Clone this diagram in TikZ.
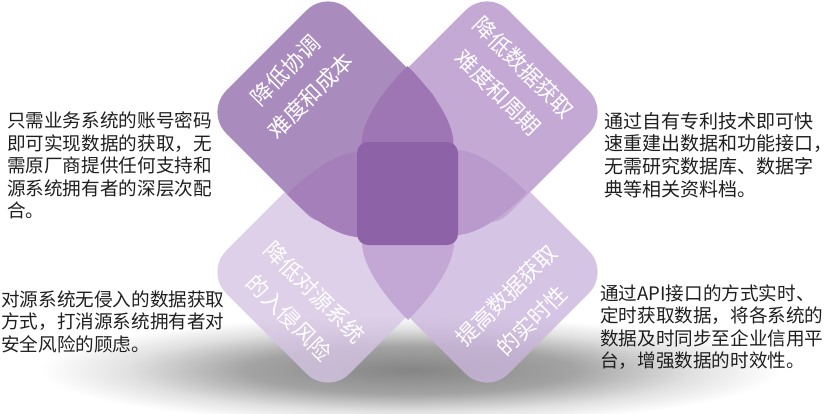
\documentclass[tikz,border=0pt]{standalone}
\usepackage{fontspec}
\setmainfont{Noto Sans CJK SC}
\usetikzlibrary{positioning}
\definecolor{leafA}{HTML}{956EAE}
\definecolor{leafB}{HTML}{B694CB}
\definecolor{leafC}{HTML}{D4C4E2}
\definecolor{leafD}{HTML}{CBB5DC}
\definecolor{petalT}{HTML}{9D76B3}
\definecolor{petalL}{HTML}{A47FB9}
\definecolor{petalR}{HTML}{BA99CD}
\definecolor{petalB}{HTML}{C3A7D5}
\definecolor{coreC}{HTML}{8D62A6}
\pgfdeclareradialshading{dropshade}{\pgfpoint{0bp}{0bp}}{color(0bp)=(black!48); color(11bp)=(black!36); color(19bp)=(black!12); color(25bp)=(white); color(50bp)=(white)}

\begin{document}
\begin{tikzpicture}[x=1pt,y=-1pt,
leaf/.style={rectangle, rounded corners=30pt, minimum size=174pt, inner sep=0pt, rotate=45},
leaftext/.style={text=white, align=center, inner sep=0pt, font=\fontsize{22pt}{36pt}\selectfont},
note/.style={anchor=north west, inner sep=0pt, align=left, text=black!88, font=\fontsize{18.6pt}{22.5pt}\selectfont}]
\useasboundingbox (0,0) rectangle (824,413);
\shade[shading=dropshade] (410,370) ellipse [x radius=370pt, y radius=54pt];
\begin{scope}[opacity=0.8, transparency group]
\node[leaf, fill=leafC] (D3) at (328,272) {};
\node[leaf, fill=leafD] (D4) at (487,272) {};
\node[leaf, fill=leafB] (D2) at (487,112) {};
\node[leaf, fill=leafA] (D1) at (328,112) {};
\end{scope}
\fill[petalT] (407.5,66) .. controls (386.5,87) and (361.5,119) .. (361.5,144) -- (361.5,165) -- (453.5,165) -- (453.5,144) .. controls (453.5,119) and (428.5,87) .. (407.5,66) -- cycle;
\fill[petalB] (408,320) .. controls (387,299) and (362,267) .. (362,242) -- (362,221) -- (454,221) -- (454,242) .. controls (454,267) and (429,299) .. (408,320) -- cycle;
\fill[petalL] (287,194.5) .. controls (307,174.5) and (336,152) .. (359,152) -- (380,152) -- (380,237) -- (359,237) .. controls (336,237) and (307,214.5) .. (287,194.5) -- cycle;
\fill[petalR] (527,192.5) .. controls (507,172.5) and (479,150) .. (456,150) -- (435,150) -- (435,235) -- (456,235) .. controls (479,235) and (507,212.5) .. (527,192.5) -- cycle;
\node[fill=coreC, minimum width=101pt, minimum height=103pt, rounded corners=11pt, inner sep=0pt] (C0) at (407.5,193.5) {};
\node[leaftext, rotate=45] (T1) at (298,83) {降低协调\\难度和成本};
\node[leaftext, rotate=-45] (T2) at (511,80) {降低数据获取\\难度和周期};
\node[leaftext, rotate=-45] (T3) at (302,305) {降低对源系统\\的入侵风险};
\node[leaftext, rotate=45] (T4) at (519,308) {提高数据获取\\的实时性};
\node[note] (N1) at (7,111.5) {只需业务系统的账号密码\\即可实现数据的获取，无\\需原厂商提供任何支持和\\源系统拥有者的深层次配\\合。};
\node[note, font=\fontsize{19pt}{22.7pt}\selectfont] (N2) at (604,112) {通过自有专利技术即可快\\速重建出数据和功能接口，\kern-0.5em\\无需研究数据库、数据字\\典等相关资料档。};
\node[note] (N3) at (1,290.5) {对源系统无侵入的数据获取\\方式，打消源系统拥有者对\\安全风险的顾虑。};
\node[note] (N4) at (600,284.5) {通过API接口的方式实时、\\定时获取数据，将各系统的\\数据及时同步至企业信用平\\台，增强数据的时效性。};
\end{tikzpicture}
\end{document}
